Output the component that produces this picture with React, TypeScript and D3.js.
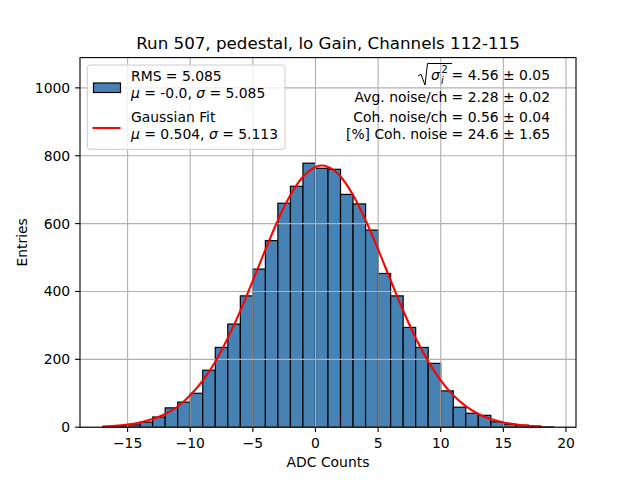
import { useEffect, useRef } from "react";
import * as d3 from "d3";

// histogram bins (left edge, width 1) and counts
const binLeft = [
    -17, -16, -15, -14, -13, -12, -11, -10, -9, -8, -7, -6, -5, -4, -3, -2, -1,
    0, 1, 2, 3, 4, 5, 6, 7, 8, 9, 10, 11, 12, 13, 14, 15, 16, 17, 18,
];
const counts = [
    1, 4, 7, 15, 30, 57, 74, 100, 168, 235, 304, 387, 466, 550, 660, 710, 778,
    763, 760, 686, 658, 581, 453, 387, 294, 235, 188, 107, 59, 41, 35, 16, 9, 6,
    3, 1,
];

// gaussian fit curve
const fitX = [
    -17, -16, -15, -14, -13, -12, -11, -10, -9, -8, -7, -6, -5, -4, -3, -2, -1,
    0, 0.5, 1, 2, 3, 4, 5, 6, 7, 8, 9, 10, 11, 12, 13, 14, 15, 16, 17, 18,
];
const fitY = [
    2, 4, 8, 14, 24, 39, 61, 94, 137, 193, 263, 343, 432, 523, 610, 684, 738,
    767, 771, 767, 739, 684, 610, 524, 433, 344, 263, 194, 138, 94, 62, 39, 24,
    14, 8, 4, 2,
];

const xTicks = [-15, -10, -5, 0, 5, 10, 15, 20];
const yTicks = [0, 200, 400, 600, 800, 1000];

const titleText = "Run 507, pedestal, lo Gain, Channels 112-115";
const statLines = [
    "Avg. noise/ch = 2.28 ± 0.02",
    "Coh. noise/ch = 0.56 ± 0.04",
    "[%] Coh. noise = 24.6 ± 1.65",
];

const W = 640;
const H = 480;
const FONT = "'DejaVu Sans', sans-serif";

export default function App() {
    const svgRef = useRef<SVGSVGElement>(null);

    useEffect(() => {
        if (!svgRef.current) return;
        const svg = d3.select(svgRef.current);
        svg.selectAll("*").remove();

        const left = 80;
        const right = 576;
        const top = 57.6;
        const bottom = 427.2;

        // matplotlib style 5% margins on x
        const xMin = -17;
        const xMax = 19;
        const pad = (xMax - xMin) * 0.05;
        const x = d3
            .scaleLinear()
            .domain([xMin - pad, xMax + pad])
            .range([left, right]);
        const yMax = (d3.max(counts) || 1) * 1.4;
        const y = d3.scaleLinear().domain([0, yMax]).range([bottom, top]);

        svg.append("rect")
            .attr("width", W)
            .attr("height", H)
            .attr("fill", "white");

        // bars
        svg.append("g")
            .selectAll("rect")
            .data(binLeft)
            .enter()
            .append("rect")
            .attr("x", (d) => x(d))
            .attr("y", (d, i) => y(counts[i]))
            .attr("width", (d) => x(d + 1) - x(d))
            .attr("height", (d, i) => y(0) - y(counts[i]))
            .attr("fill", "#4682b4")
            .attr("stroke", "black")
            .attr("stroke-width", 1.2);

        // grid (above bars, below the line)
        const grid = svg.append("g").attr("stroke", "#b0b0b0").attr("stroke-width", 1.1);
        xTicks.forEach((t) => {
            grid.append("line")
                .attr("x1", x(t))
                .attr("x2", x(t))
                .attr("y1", top)
                .attr("y2", bottom);
        });
        yTicks.forEach((t) => {
            grid.append("line")
                .attr("x1", left)
                .attr("x2", right)
                .attr("y1", y(t))
                .attr("y2", y(t));
        });

        // fit line
        const line = d3
            .line<number>()
            .x((d) => x(d))
            .y((d, i) => y(fitY[i]))
            .curve(d3.curveMonotoneX);
        svg.append("path")
            .attr("d", line(fitX))
            .attr("fill", "none")
            .attr("stroke", "red")
            .attr("stroke-width", 2.08);

        // spines
        svg.append("rect")
            .attr("x", left)
            .attr("y", top)
            .attr("width", right - left)
            .attr("height", bottom - top)
            .attr("fill", "none")
            .attr("stroke", "black")
            .attr("stroke-width", 1.1);

        // x axis
        const xa = svg.append("g").attr("font-family", FONT).attr("font-size", 13.9);
        xTicks.forEach((t) => {
            xa.append("line")
                .attr("x1", x(t))
                .attr("x2", x(t))
                .attr("y1", bottom)
                .attr("y2", bottom + 4.9)
                .attr("stroke", "black")
                .attr("stroke-width", 1.1);
            xa.append("text")
                .attr("x", x(t))
                .attr("y", bottom + 20.3)
                .attr("text-anchor", "middle")
                .text(String(t).replace("-", "\u2212"));
        });
        xa.append("text")
            .attr("x", (left + right) / 2)
            .attr("y", 467)
            .attr("text-anchor", "middle")
            .text("ADC Counts");

        // y axis
        const ya = svg.append("g").attr("font-family", FONT).attr("font-size", 13.9);
        yTicks.forEach((t) => {
            ya.append("line")
                .attr("x1", left - 4.9)
                .attr("x2", left)
                .attr("y1", y(t))
                .attr("y2", y(t))
                .attr("stroke", "black")
                .attr("stroke-width", 1.1);
            ya.append("text")
                .attr("x", left - 9.8)
                .attr("y", y(t))
                .attr("dy", "0.36em")
                .attr("text-anchor", "end")
                .text(t);
        });
        ya.append("text")
            .attr("transform", `translate(27,${(top + bottom) / 2}) rotate(-90)`)
            .attr("text-anchor", "middle")
            .text("Entries");

        // title
        svg.append("text")
            .attr("x", (left + right) / 2)
            .attr("y", 49.3)
            .attr("text-anchor", "middle")
            .attr("font-family", FONT)
            .attr("font-size", 16.7)
            .text(titleText);

        // legend
        const lg = svg.append("g").attr("font-family", FONT).attr("font-size", 13.9);
        lg.append("rect")
            .attr("x", 87.3)
            .attr("y", 65)
            .attr("width", 197.7)
            .attr("height", 84.3)
            .attr("rx", 2.8)
            .attr("fill", "white")
            .attr("fill-opacity", 0.8)
            .attr("stroke", "#cccccc")
            .attr("stroke-width", 1);
        lg.append("rect")
            .attr("x", 93.5)
            .attr("y", 83)
            .attr("width", 27)
            .attr("height", 9.5)
            .attr("fill", "#4682b4")
            .attr("stroke", "black")
            .attr("stroke-width", 1.2);
        lg.append("line")
            .attr("x1", 92.5)
            .attr("x2", 120.5)
            .attr("y1", 128)
            .attr("y2", 128)
            .attr("stroke", "red")
            .attr("stroke-width", 2.08);
        lg.append("text").attr("x", 131).attr("y", 80.5).text("RMS = 5.085");
        const l2 = lg.append("text").attr("x", 131).attr("y", 98);
        l2.append("tspan").attr("font-style", "italic").text("μ");
        l2.append("tspan").text(" = -0.0, ");
        l2.append("tspan").attr("font-style", "italic").text("σ");
        l2.append("tspan").text(" = 5.085");
        lg.append("text").attr("x", 131).attr("y", 121.5).text("Gaussian Fit");
        const l4 = lg.append("text").attr("x", 131).attr("y", 139);
        l4.append("tspan").attr("font-style", "italic").text("μ");
        l4.append("tspan").text(" = 0.504, ");
        l4.append("tspan").attr("font-style", "italic").text("σ");
        l4.append("tspan").text(" = 5.113");

        // stats annotation (top right)
        const st = svg.append("g").attr("font-family", FONT).attr("font-size", 13.9);
        st.append("path")
            .attr("d", "M418,76 L421,74.3 L425,85 L427.5,63.5 L452,63.5")
            .attr("fill", "none")
            .attr("stroke", "black")
            .attr("stroke-width", 1);
        st.append("text")
            .attr("x", 431)
            .attr("y", 80)
            .attr("font-style", "italic")
            .text("σ");
        st.append("text").attr("x", 441.5).attr("y", 72.5).attr("font-size", 9.7).text("2");
        st.append("text")
            .attr("x", 441)
            .attr("y", 83.5)
            .attr("font-size", 9.7)
            .attr("font-style", "italic")
            .text("i");
        st.append("text")
            .attr("x", 550)
            .attr("y", 80)
            .attr("text-anchor", "end")
            .text("= 4.56 ± 0.05");
        const statY = [102, 122, 139];
        statLines.forEach((s, i) => {
            st.append("text")
                .attr("x", 550)
                .attr("y", statY[i])
                .attr("text-anchor", "end")
                .text(s);
        });
    }, []);

    return (
        <svg
            ref={svgRef}
            width={W}
            height={H}
            style={{ position: "absolute", left: 0, top: 0 }}
        ></svg>
    );
}
